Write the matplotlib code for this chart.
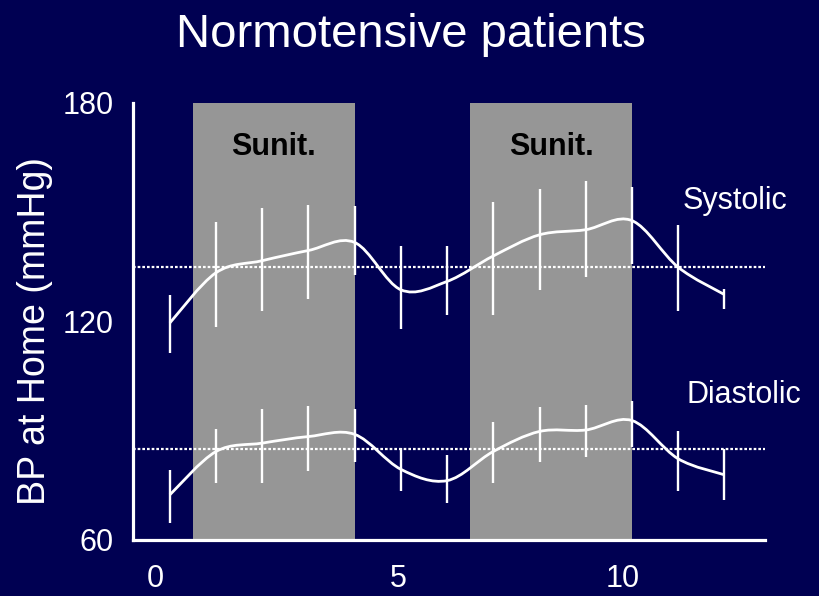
import numpy as np
import matplotlib
matplotlib.use("Agg")
import matplotlib.pyplot as plt
from matplotlib.path import Path
from matplotlib.patches import PathPatch

plt.rcParams['font.family'] = ['Liberation Sans', 'DejaVu Sans']

# sample index along the study (13 home readings)
muestras = list(range(13))

sistolica = [119.6, 133.4, 136.7, 139.5, 141.7, 128.7, 131.0, 138.0, 143.8, 145.2, 147.7, 134.9, 127.4]
sistolica_alta = [127.3, 147.4, 151.2, 152.0, 151.6, 140.6, 140.8, 152.9, 156.4, 158.7, 157.0, 146.5, 128.9]
sistolica_baja = [111.4, 118.5, 122.9, 126.2, 132.8, 118.0, 121.8, 121.8, 128.7, 132.3, 135.8, 123.0, 123.4]

diastolica = [72.4, 84.3, 86.6, 88.4, 89.0, 79.4, 76.3, 84.3, 89.8, 90.2, 92.8, 82.3, 77.9]
diastolica_alta = [79.2, 90.5, 96.0, 96.8, 95.9, 85.2, 83.4, 92.3, 96.5, 97.1, 98.3, 89.8, 85.0]
diastolica_baja = [64.6, 75.6, 75.6, 79.0, 81.5, 73.5, 70.1, 75.6, 81.5, 82.9, 85.6, 73.5, 71.0]

referencia_sis = 135
referencia_dia = 85

periodos_sunit = [(0.5, 4.0), (6.5, 10.0)]
etiqueta_periodo = "Sunit."

ticks_y = [60, 120, 180]
ticks_x_labels = ['0', '5', '10']

FONDO = '#000052'
GRIS = '#969696'


def curva_suave(xs, ys):
    # Catmull-Rom style bezier, like a smoothed line in a spreadsheet
    xs = np.asarray(xs, float)
    ys = np.asarray(ys, float)
    px = np.concatenate([[xs[0]], xs, [xs[-1]]])
    py = np.concatenate([[ys[0]], ys, [ys[-1]]])
    verts = [(xs[0], ys[0])]
    codes = [Path.MOVETO]
    for i in range(1, len(px) - 2):
        c1 = (px[i] + (px[i + 1] - px[i - 1]) / 6, py[i] + (py[i + 1] - py[i - 1]) / 6)
        c2 = (px[i + 1] - (px[i + 2] - px[i]) / 6, py[i + 1] - (py[i + 2] - py[i]) / 6)
        verts += [c1, c2, (px[i + 1], py[i + 1])]
        codes += [Path.CURVE4] * 3
    return Path(verts, codes)


fig = plt.figure(figsize=(8.19, 5.96), dpi=100, facecolor=FONDO)
ax = fig.add_axes([0.1624, 0.094, 0.7717, 0.7332])
ax.set_facecolor(FONDO)

for ini, fin in periodos_sunit:
    ax.axvspan(ini, fin, color=GRIS, lw=0, zorder=0)
    ax.text((ini + fin) / 2, 165.8, etiqueta_periodo, ha='center', va='baseline',
            fontsize=22, fontweight='bold', color='black', zorder=1)

for ref in (referencia_sis, referencia_dia):
    ax.axhline(ref, color='white', lw=1.6, linestyle=(0, (1.2, 0.9)), zorder=2)

for media, alta, baja in ((sistolica, sistolica_alta, sistolica_baja),
                          (diastolica, diastolica_alta, diastolica_baja)):
    media = np.array(media)
    err = [media - np.array(baja), np.array(alta) - media]
    ax.errorbar(muestras, media, yerr=err, fmt='none', ecolor='white',
                elinewidth=1.7, capsize=0, zorder=3)
    ax.add_patch(PathPatch(curva_suave(muestras, media), fill=False,
                           edgecolor='white', lw=2.0, zorder=4))

ax.text(11.1, 150.9, "Systolic", color='white', fontsize=22, ha='left', va='baseline')
ax.text(11.18, 97.7, "Diastolic", color='white', fontsize=22, ha='left', va='baseline')

ax.set_xlim(-0.797, 12.88)
ax.set_ylim(60, 180)
ax.set_yticks(ticks_y)
ax.set_xticks([-0.32, 4.94, 9.81])
ax.set_xticklabels(ticks_x_labels)
ax.tick_params(axis='both', length=0, labelcolor='white', labelsize=22)
ax.tick_params(axis='y', pad=14)
ax.tick_params(axis='x', pad=17)

for lado in ('top', 'right'):
    ax.spines[lado].set_visible(False)
for lado in ('left', 'bottom'):
    ax.spines[lado].set_color('white')
    ax.spines[lado].set_linewidth(2.3)
    ax.spines[lado].set_zorder(5)

fig.text(411 / 819, 1 - 47 / 596, "Normotensive patients", color='white',
         fontsize=34, ha='center', va='baseline')
fig.text(35 / 819, 1 - 331 / 596, "BP at Home (mmHg)", color='white',
         fontsize=27, rotation=90, ha='center', va='center')

fig.savefig('out.png', dpi=100, facecolor=FONDO)
